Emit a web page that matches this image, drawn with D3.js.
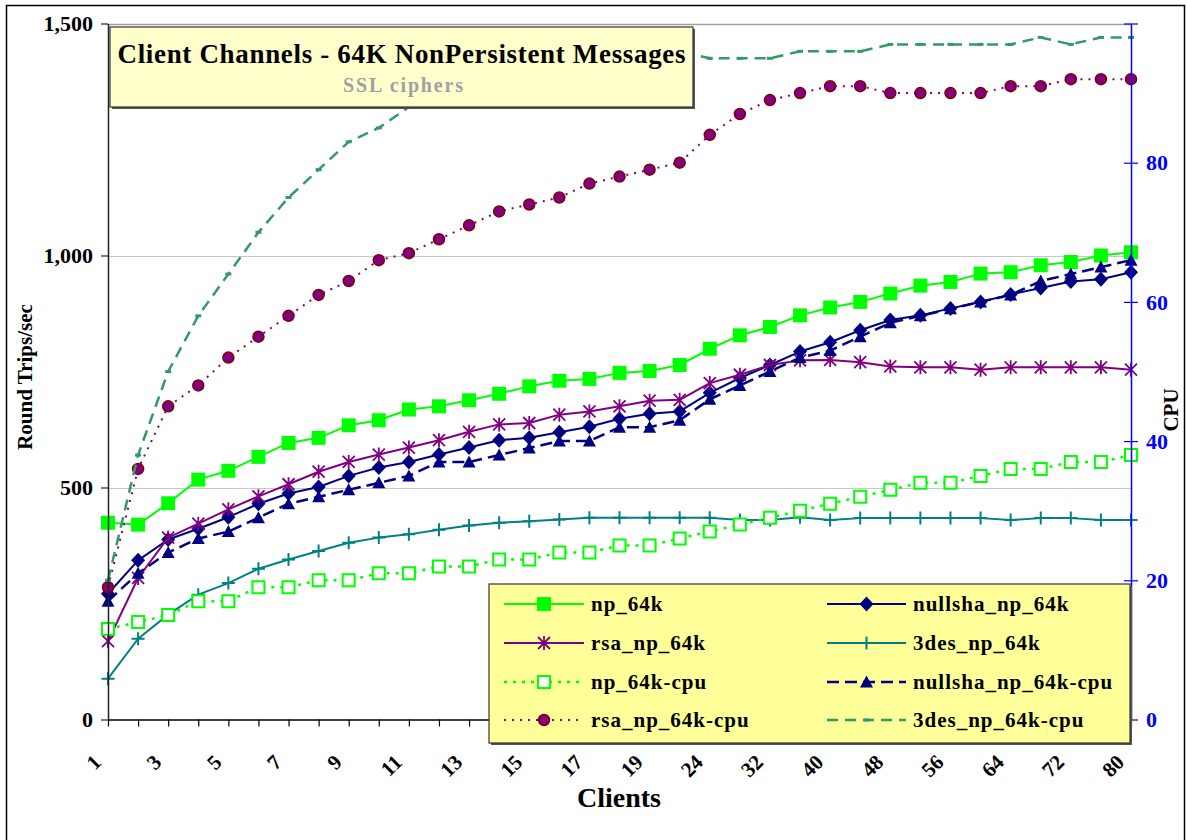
<!DOCTYPE html>
<html>
<head>
<meta charset="utf-8">
<script src="https://cdn.jsdelivr.net/npm/d3@7"></script>
<style>
  body { margin: 0; background: #ffffff; }
  svg text { font-family: "Liberation Serif", "Times New Roman", serif; font-weight: bold; }
</style>
</head>
<body>
<svg id="chart" width="1186" height="840"></svg>
<script>
// Client counts on the category axis
const clients = ["1","2","3","4","5","6","7","8","9","10","11","12","13","14","15","16","17","18","19","20",
                 "24","28","32","36","40","44","48","52","56","60","64","68","72","76","80"];

// Round trips per second (left axis)
const np64k = [424,420,466,517,536,566,596,607,634,645,668,675,688,702,718,730,734,747,751,764,
               799,828,846,871,888,900,918,935,943,961,964,979,986,1000,1007];
const nullsha64k = [271,343,388,411,436,465,487,501,525,543,555,571,586,602,607,619,631,648,659,664,
                    704,736,764,793,813,839,861,871,886,900,916,930,944,949,964];
const rsa64k = [169,305,392,422,453,481,507,534,555,571,586,602,620,636,639,657,664,675,687,689,
                725,743,764,774,775,770,761,759,759,754,759,759,759,759,754];
const des64k = [88,174,226,269,294,325,345,363,381,392,399,409,418,424,427,431,435,435,435,435,
                435,430,430,436,430,434,434,434,434,434,430,434,434,430,430];

// CPU percentage (right axis)
const np64kCpu = [13,14,15,17,17,19,19,20,20,21,21,22,22,23,23,24,24,25,25,26,
                  27,28,29,30,31,32,33,34,34,35,36,36,37,37,38];
const nullsha64kCpu = [17,21,24,26,27,29,31,32,33,34,35,37,37,38,39,40,40,42,42,43,
                       46,48,50,52,53,55,57,58,59,60,61,63,64,65,66];
const rsa64kCpu = [19,36,45,48,52,55,58,61,63,66,67,69,71,73,74,75,77,78,79,80,
                   84,87,89,90,91,91,90,90,90,90,91,91,92,92,92];
const des64kCpu = [20,38,50,58,64,70,75,79,83,85,88,90,91,92,93,93,94,95,95,96,
                   95,95,95,96,96,96,97,97,97,97,97,98,97,98,98];

const leftTicks = [0, 500, 1000, 1500];
const rightTicks = [0, 20, 40, 60, 80, 100];

const svg = d3.select("#chart");
const W = 1186, H = 840;
const plot = { left: 108, right: 1131, top: 23.5, bottom: 719.5 };

svg.append("rect").attr("width", W).attr("height", H).attr("fill", "#ffffff");
// chart frame
svg.append("rect").attr("x", 6.5).attr("y", 5.5).attr("width", 1178).attr("height", 845)
  .attr("fill", "none").attr("stroke", "#000").attr("stroke-width", 1.5);

const x = d3.scalePoint().domain(clients).range([plot.left, plot.right]);
const yL = d3.scaleLinear().domain([0, 1500]).range([plot.bottom, plot.top]);
const yR = d3.scaleLinear().domain([0, 100]).range([plot.bottom, plot.top]);

// gridlines
svg.append("g").selectAll("line").data(leftTicks.filter(d => d > 0)).join("line")
  .attr("x1", plot.left).attr("x2", plot.right)
  .attr("y1", d => Math.round(yL(d)) + 0.5).attr("y2", d => Math.round(yL(d)) + 0.5)
  .attr("stroke", d => d === 1500 ? "#a0a0a0" : "#c8c8c8").attr("stroke-width", d => d === 1500 ? 1.5 : 1.2);

// marker shapes
const markerPath = {
  square: s => `M${-s/2},${-s/2}h${s}v${s}h${-s}Z`,
  diamond: s => `M0,${-s/2}L${s/2-0.5},0L0,${s/2}L${-s/2+0.5},0Z`,
  triangle: s => `M0,${-s/2}L${s/2},${s/2-1}L${-s/2},${s/2-1}Z`,
  plus: s => `M${-s/2},0H${s/2}M0,${-s/2}V${s/2}`,
  asterisk: s => `M${-s/2},${-s/2}L${s/2},${s/2}M${-s/2},${s/2}L${s/2},${-s/2}M0,${-s/2-1}V${s/2+1}`,
  dash: s => `M${-s/2},-1.5h${s}v3h${-s}Z`
};

const series = [
  { name: "np_64k", values: np64k, axis: "L", color: "#00ff00", width: 2, dash: null,
    marker: "square", size: 14, fill: "#00ff00", mstroke: "none", mw: 0 },
  { name: "nullsha_np_64k", values: nullsha64k, axis: "L", color: "#000080", width: 2, dash: null,
    marker: "diamond", size: 15, fill: "#000080", mstroke: "none", mw: 0 },
  { name: "rsa_np_64k", values: rsa64k, axis: "L", color: "#800080", width: 2, dash: null,
    marker: "asterisk", size: 12, fill: "none", mstroke: "#800080", mw: 1.8 },
  { name: "3des_np_64k", values: des64k, axis: "L", color: "#008080", width: 2, dash: null,
    marker: "plus", size: 13, fill: "none", mstroke: "#008080", mw: 2 },
  { name: "np_64k-cpu", values: np64kCpu, axis: "R", color: "#00ff00", width: 2.5, dash: "3,6",
    marker: "square", size: 12, fill: "#ffffff", mstroke: "#00ff00", mw: 2 },
  { name: "nullsha_np_64k-cpu", values: nullsha64kCpu, axis: "R", color: "#000080", width: 2.5, dash: "12,6",
    marker: "triangle", size: 13, fill: "#000080", mstroke: "none", mw: 0 },
  { name: "rsa_np_64k-cpu", values: rsa64kCpu, axis: "R", color: "#800080", width: 2, dash: "2,6",
    marker: "circle", size: 11, fill: "#800080", mstroke: "#800000", mw: 1.5 },
  { name: "3des_np_64k-cpu", values: des64kCpu, axis: "R", color: "#339966", width: 2.5, dash: "11,7",
    marker: "dash", size: 6, fill: "#339966", mstroke: "none", mw: 0 }
];

function drawMarker(sel, s) {
  if (s.marker === "circle") {
    return sel.append("circle").attr("r", s.size / 2)
      .attr("fill", s.fill).attr("stroke", s.mstroke).attr("stroke-width", s.mw);
  }
  return sel.append("path").attr("d", markerPath[s.marker](s.size))
    .attr("fill", s.fill).attr("stroke", s.mstroke).attr("stroke-width", s.mw);
}

const seriesG = svg.append("g");
series.forEach(s => {
  const y = s.axis === "L" ? yL : yR;
  const g = seriesG.append("g");
  const line = d3.line().x((d, i) => x(clients[i])).y(d => y(d));
  g.append("path").datum(s.values).attr("d", line)
    .attr("fill", "none").attr("stroke", s.color).attr("stroke-width", s.width)
    .attr("stroke-dasharray", s.dash).attr("stroke-linejoin", "round");
  s.values.forEach((v, i) => {
    const m = g.append("g").attr("transform", `translate(${x(clients[i])},${y(v)})`);
    drawMarker(m, s);
  });
});

// left axis
const axL = svg.append("g").attr("transform", `translate(${plot.left},0)`)
  .call(d3.axisLeft(yL).tickValues(leftTicks).tickFormat(d3.format(",")).tickSize(7).tickSizeOuter(0));
axL.select(".domain").attr("stroke", "#222").attr("stroke-width", 1.5);
axL.selectAll(".tick line").attr("stroke", "#222").attr("stroke-width", 1.2);
axL.selectAll(".tick text").attr("font-size", 22).attr("fill", "#000").attr("x", -15).attr("dy", "0.33em");

// category axis
const axB = svg.append("g").attr("transform", `translate(0,${plot.bottom})`)
  .call(d3.axisBottom(x).tickSize(7).tickSizeOuter(0).tickFormat((d, i) => i % 2 === 0 ? d : ""));
axB.select(".domain").attr("stroke", "#000").attr("stroke-width", 1.5);
axB.selectAll(".tick line").attr("stroke", "#000").attr("stroke-width", 1.2);
axB.selectAll(".tick text").attr("font-size", 21).attr("fill", "#000")
  .attr("text-anchor", "end").attr("dy", null).attr("y", 0)
  .attr("transform", "translate(-6,44) rotate(-45)");

// right axis (CPU)
const axR = svg.append("g").attr("transform", `translate(${plot.right},0)`)
  .call(d3.axisRight(yR).tickValues(rightTicks).tickFormat(d => d === 100 ? "" : d).tickSize(7).tickSizeOuter(0));
axR.select(".domain").attr("stroke", "#0000ff").attr("stroke-width", 1.5);
axR.selectAll(".tick line").attr("stroke", "#0000ff").attr("stroke-width", 1.2).attr("x1", -7);
axR.selectAll(".tick text").attr("font-size", 22).attr("fill", "#0000ff").attr("x", 15).attr("dy", "0.33em");

// axis titles
svg.append("text").attr("transform", "translate(32,377) rotate(-90)")
  .attr("text-anchor", "middle").attr("font-size", 21).attr("fill", "#000").text("Round Trips/sec");
svg.append("text").attr("transform", "translate(1178,410) rotate(-90)")
  .attr("text-anchor", "middle").attr("font-size", 21).attr("fill", "#000").text("CPU");
svg.append("text").attr("x", 619).attr("y", 807)
  .attr("text-anchor", "middle").attr("font-size", 28).attr("fill", "#000").text("Clients");

// title box
const tb = { x: 110, y: 27, w: 583, h: 80 };
svg.append("rect").attr("x", tb.x + 2).attr("y", tb.y + 2).attr("width", tb.w).attr("height", tb.h).attr("fill", "#555");
svg.append("rect").attr("x", tb.x).attr("y", tb.y).attr("width", tb.w).attr("height", tb.h)
  .attr("fill", "#ffffcc").attr("stroke", "#333").attr("stroke-width", 1.2);
svg.append("text").attr("x", tb.x + tb.w / 2).attr("y", 63).attr("text-anchor", "middle")
  .attr("font-size", 27).attr("fill", "#000")
  .attr("textLength", 568).attr("lengthAdjust", "spacing")
  .text("Client Channels - 64K NonPersistent Messages");
svg.append("text").attr("x", 403).attr("y", 92).attr("text-anchor", "middle")
  .attr("font-size", 20).attr("fill", "#a0a0a0")
  .attr("textLength", 120).attr("lengthAdjust", "spacing")
  .text("SSL ciphers");

// legend
const lg = { x: 489, y: 584, w: 641, h: 159 };
svg.append("rect").attr("x", lg.x + 2).attr("y", lg.y + 2).attr("width", lg.w).attr("height", lg.h).attr("fill", "#555");
svg.append("rect").attr("x", lg.x).attr("y", lg.y).attr("width", lg.w).attr("height", lg.h)
  .attr("fill", "#ffff99").attr("stroke", "#333").attr("stroke-width", 1.2);
const rowY = [604, 643, 682, 720];
const colX = [{ l0: 504, l1: 584, tx: 591 }, { l0: 827, l1: 906, tx: 913 }];
series.forEach((s, k) => {
  // entries run left to right, two per row
  const row = Math.floor(k / 2), col = k % 2;
  const c = colX[col], yy = rowY[row];
  const g = svg.append("g");
  g.append("line").attr("x1", c.l0).attr("x2", c.l1).attr("y1", yy).attr("y2", yy)
    .attr("stroke", s.color).attr("stroke-width", s.width).attr("stroke-dasharray", s.dash);
  const m = g.append("g").attr("transform", `translate(${(c.l0 + c.l1) / 2},${yy})`);
  drawMarker(m, s);
  g.append("text").attr("x", c.tx).attr("y", yy).attr("dy", "0.33em")
    .attr("font-size", 21).attr("letter-spacing", 1).attr("fill", "#000").text(s.name);
});
</script>
</body>
</html>
